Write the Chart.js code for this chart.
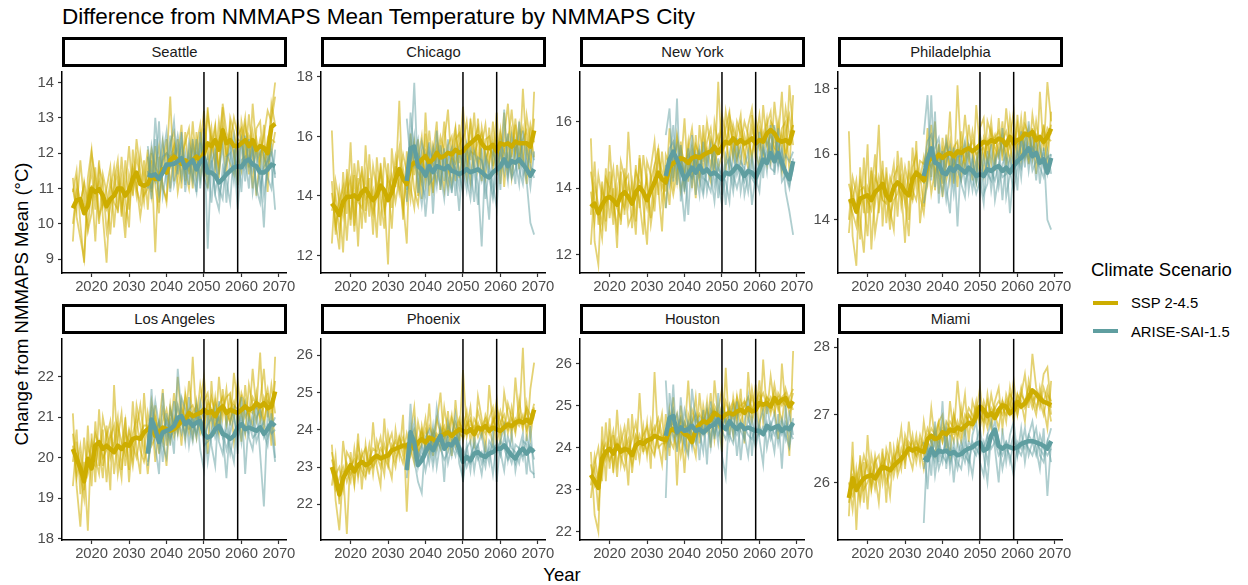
<!DOCTYPE html>
<html>
<head>
<meta charset="utf-8">
<script src="https://cdn.jsdelivr.net/npm/chart.js@4.4.1/dist/chart.umd.min.js"></script>
<style>
  body { margin: 0; width: 1248px; height: 585px; position: relative; overflow: hidden; background: #fff;
         font-family: "Liberation Sans", Arial, sans-serif; }
  canvas { position: absolute; }
  .txt { position: absolute; white-space: nowrap; line-height: 1; }
  .strip { position: absolute; box-sizing: border-box; border: 3px solid #000; background: #fff;
           font-size: 14.8px; color: #1a1a1a; display: flex; align-items: center; justify-content: center; }
  .key { position: absolute; width: 25px; height: 4.5px; }
</style>
</head>
<body>
<div class="txt" style="left:62px; top:6px; font-size:22.5px; color:#000;">Difference from NMMAPS Mean Temperature by NMMAPS City</div>
<div class="txt" style="left:22px; top:304px; font-size:18.5px; color:#000; transform: translate(-50%, -50%) rotate(-90deg);">Change from NMMAPS Mean (°C)</div>
<div class="txt" style="left:562px; top:566px; font-size:18.5px; color:#000; transform: translateX(-50%);">Year</div>
<div class="txt" style="left:1091px; top:261px; font-size:18.5px; color:#000;">Climate Scenario</div>
<div class="key" style="left:1093px; top:300.5px; background:#CDAD00;"></div>
<div class="txt" style="left:1131px; top:296px; font-size:14.8px; color:#000;">SSP 2-4.5</div>
<div class="key" style="left:1093px; top:328.5px; background:#5F9EA0;"></div>
<div class="txt" style="left:1131px; top:324.5px; font-size:14.8px; color:#000;">ARISE-SAI-1.5</div>

<script>
const years = [2015, 2016, 2017, 2018, 2019, 2020, 2021, 2022, 2023, 2024,
  2025, 2026, 2027, 2028, 2029, 2030, 2031, 2032, 2033, 2034,
  2035, 2036, 2037, 2038, 2039, 2040, 2041, 2042, 2043, 2044,
  2045, 2046, 2047, 2048, 2049, 2050, 2051, 2052, 2053, 2054,
  2055, 2056, 2057, 2058, 2059, 2060, 2061, 2062, 2063, 2064,
  2065, 2066, 2067, 2068, 2069];
const ariseYears = years.slice(20); // ARISE starts in 2035
const xTicks = [2020, 2030, 2040, 2050, 2060, 2070];
const markerYears = [2050, 2059];
const scenarios = ['SSP 2-4.5', 'ARISE-SAI-1.5'];

// ---- Seattle ----
const seattleSspMean = [10.44, 10.67, 10.70, 10.30, 10.50, 11.00, 10.90, 10.98, 10.80, 10.50,
  10.70, 10.80, 11.00, 11.00, 10.80, 10.95, 11.27, 11.45, 11.13, 11.08,
  11.13, 11.36, 11.27, 11.27, 11.54, 11.45, 11.80, 11.90, 11.80, 11.70,
  11.80, 11.70, 11.80, 11.90, 11.80, 12.00, 12.28, 12.20, 12.37, 12.10,
  12.65, 12.28, 12.37, 12.20, 12.20, 12.28, 12.37, 12.20, 12.37, 12.10,
  12.20, 12.15, 12.00, 12.74, 12.83];
const seattleAriseMean = [11.40, 11.36, 11.40, 11.27, 11.45, 11.68, 11.68, 11.70, 11.77, 11.86,
  11.59, 11.70, 11.80, 11.54, 11.75, 11.86, 11.45, 11.45, 11.36, 11.17,
  11.27, 11.40, 11.50, 11.60, 11.63, 11.60, 11.77, 11.82, 11.68, 11.63,
  11.45, 11.45, 11.54, 11.68, 11.63];
const seattleSspRuns = [
  [11.3, 10.2, 9.6, 9.0, 10.8, 11.5, 10.4, 11.8, 10.2, 8.9, 10.9, 11.6, 10.3, 11.9, 10.7, 9.9, 12.1, 11.0, 10.6, 11.8,
   10.4, 12.0, 11.1, 10.3, 12.3, 11.7, 13.6, 11.2, 12.4, 11.0, 12.6, 11.4, 12.9, 11.6, 12.1, 13.2, 11.8, 12.7, 11.5, 12.4,
   13.3, 11.9, 12.8, 12.0, 11.1, 12.9, 12.3, 11.4, 13.4, 12.1, 11.6, 12.8, 10.9, 13.1, 14.0],
  [9.5, 11.2, 10.6, 11.1, 9.8, 10.3, 11.6, 10.0, 11.4, 10.9, 9.7, 11.2, 11.8, 10.4, 11.0, 12.2, 10.8, 11.9, 11.3, 10.6,
   11.8, 10.9, 12.2, 10.6, 11.5, 12.4, 11.0, 12.3, 11.9, 12.8, 11.2, 12.1, 11.0, 12.6, 11.3, 12.0, 13.1, 12.4, 11.7, 12.9,
   12.2, 11.4, 13.0, 12.6, 11.9, 11.5, 12.8, 12.2, 11.0, 12.7, 12.9, 11.6, 12.4, 12.0, 12.6],
  [10.9, 11.5, 10.0, 8.9, 11.3, 12.1, 10.8, 11.2, 10.5, 11.0, 11.6, 9.9, 11.2, 10.7, 9.6, 11.4, 10.9, 12.4, 11.5, 10.8,
   11.0, 11.8, 9.2, 11.9, 11.1, 10.6, 12.3, 12.6, 11.3, 11.9, 12.3, 12.7, 11.4, 12.2, 12.8, 11.6, 13.3, 12.0, 12.7, 11.3,
   13.4, 12.6, 12.2, 13.0, 12.5, 12.7, 11.8, 13.1, 11.9, 12.4, 11.8, 12.5, 13.2, 12.9, 13.6],
  [11.0, 10.4, 11.8, 10.6, 9.9, 11.1, 9.5, 11.6, 11.2, 9.8, 10.5, 11.0, 11.5, 10.2, 11.8, 10.4, 11.5, 10.8, 12.0, 11.2,
   12.1, 10.8, 11.6, 12.2, 11.0, 10.7, 11.9, 12.0, 11.6, 12.2, 11.5, 11.0, 12.3, 11.8, 12.5, 11.3, 11.6, 12.2, 12.8, 11.4,
   12.8, 12.0, 11.7, 11.4, 12.9, 12.3, 13.0, 11.6, 12.6, 11.9, 12.4, 11.9, 11.5, 12.4, 12.3],
  [10.0, 10.9, 10.5, 11.2, 10.6, 12.0, 11.3, 10.2, 10.6, 10.4, 11.2, 10.6, 10.4, 11.3, 10.1, 10.8, 11.6, 11.1, 10.2, 11.0,
   11.4, 12.1, 11.6, 11.4, 11.8, 12.0, 11.9, 12.2, 10.9, 11.6, 11.7, 11.5, 12.2, 11.3, 11.9, 12.3, 11.0, 12.4, 12.1, 11.6,
   12.6, 11.8, 12.5, 11.9, 12.4, 12.3, 11.7, 12.5, 12.2, 10.8, 12.0, 12.2, 11.8, 13.4, 12.8]
];
const seattleAriseRuns = [
  [11.9, 11.0, 13.0, 11.6, 12.4, 11.2, 12.1, 12.9, 11.4, 12.6, 11.1, 12.3, 11.8, 12.0, 11.3, 12.7, 9.3, 11.8, 10.9, 11.5,
   12.2, 10.6, 11.9, 12.5, 11.0, 12.3, 11.2, 12.4, 10.9, 11.7, 12.1, 10.8, 11.6, 12.2, 11.3],
  [11.0, 12.2, 11.5, 10.8, 11.9, 12.6, 10.9, 11.8, 12.2, 11.3, 12.0, 11.1, 12.4, 10.9, 12.3, 11.4, 11.9, 10.6, 11.8, 11.0,
   10.7, 11.9, 12.0, 11.2, 12.2, 10.9, 12.5, 11.6, 12.1, 11.0, 10.6, 12.0, 11.3, 11.0, 12.1],
  [12.2, 11.4, 11.2, 12.9, 10.8, 11.5, 12.5, 11.1, 11.6, 12.4, 10.9, 11.8, 11.2, 12.4, 11.0, 12.1, 11.2, 12.0, 10.8, 10.4,
   11.6, 11.2, 10.6, 12.1, 10.4, 11.8, 11.9, 11.0, 12.4, 10.9, 11.5, 9.9, 12.1, 11.7, 10.4],
  [11.5, 10.7, 12.4, 11.3, 11.9, 12.0, 11.6, 11.9, 12.5, 11.8, 11.5, 12.0, 11.4, 10.9, 12.6, 11.3, 11.0, 11.7, 12.1, 10.8,
   11.3, 11.7, 12.2, 11.5, 11.8, 12.4, 11.6, 11.9, 11.5, 12.1, 11.0, 11.6, 11.8, 12.0, 11.4]
];

// ---- Chicago ----
const chicagoSspMean = [13.75, 13.58, 13.36, 13.80, 13.97, 13.97, 14.02, 13.90, 14.13, 14.24,
  14.02, 13.86, 14.02, 14.35, 14.19, 13.86, 14.13, 14.57, 14.90, 14.57,
  14.40, 15.00, 15.12, 15.07, 15.23, 15.34, 15.12, 15.23, 15.45, 15.29,
  15.34, 15.45, 15.40, 15.55, 15.45, 15.50, 15.66, 15.77, 15.88, 16.00,
  15.77, 15.61, 15.61, 15.72, 15.50, 15.77, 15.72, 15.77, 15.66, 15.83,
  15.77, 15.77, 15.77, 15.66, 16.20];
const chicagoAriseMean = [14.50, 15.60, 15.66, 15.00, 14.90, 14.68, 15.00, 14.80, 15.00, 14.95,
  14.90, 15.00, 14.84, 14.80, 14.73, 14.80, 14.90, 14.80, 14.84, 14.90,
  14.80, 14.68, 14.62, 14.80, 14.90, 15.00, 15.23, 15.00, 15.17, 15.12,
  15.23, 15.06, 14.90, 14.68, 14.90];
const chicagoSspRuns = [
  [16.2, 13.1, 12.2, 14.8, 13.4, 15.8, 13.0, 14.6, 12.9, 15.7, 13.8, 14.2, 12.6, 15.1, 14.0, 11.7, 15.6, 14.3, 17.2, 13.8,
   12.4, 16.1, 14.7, 15.9, 13.9, 16.8, 14.6, 15.4, 16.5, 14.2, 15.8, 16.9, 14.9, 16.2, 15.1, 17.0, 15.4, 16.4, 14.8, 16.6,
   15.2, 14.6, 16.3, 15.0, 16.8, 14.4, 16.0, 17.1, 15.3, 16.4, 14.9, 17.6, 15.5, 14.6, 17.5],
  [12.4, 14.5, 13.8, 12.1, 14.9, 13.2, 14.7, 12.3, 15.0, 13.5, 14.6, 12.7, 15.3, 13.9, 12.9, 15.1, 13.6, 14.8, 15.6, 13.2,
   15.5, 14.3, 13.6, 15.2, 16.0, 14.4, 15.3, 14.1, 15.9, 15.0, 14.2, 15.7, 16.0, 14.5, 16.4, 15.2, 14.6, 16.6, 15.6, 15.1,
   16.3, 15.4, 15.0, 16.5, 15.3, 16.2, 14.3, 15.8, 16.9, 15.4, 16.1, 15.0, 16.7, 15.8, 16.0],
  [14.1, 13.0, 13.8, 14.3, 12.5, 14.4, 13.5, 15.2, 14.0, 13.1, 15.4, 13.6, 14.5, 13.0, 15.3, 14.4, 12.9, 15.0, 14.1, 14.9,
   13.9, 15.1, 15.8, 14.0, 15.4, 14.7, 16.2, 15.0, 14.5, 15.7, 15.0, 14.3, 15.6, 16.3, 14.6, 15.8, 16.5, 15.2, 16.8, 14.9,
   15.7, 16.4, 15.1, 15.9, 14.7, 16.1, 15.6, 14.8, 16.2, 15.5, 16.4, 15.4, 14.4, 16.1, 15.3],
  [13.5, 14.0, 12.8, 13.9, 14.6, 13.0, 15.1, 13.8, 13.6, 14.7, 13.3, 15.0, 14.2, 14.8, 13.5, 14.1, 14.7, 13.8, 14.6, 15.4,
   14.8, 13.9, 15.6, 14.8, 14.5, 16.1, 14.0, 15.7, 15.2, 16.0, 15.5, 15.0, 14.4, 15.9, 16.1, 14.8, 15.6, 14.5, 15.9, 16.3,
   14.5, 15.9, 16.0, 14.9, 15.6, 15.3, 16.8, 15.0, 15.4, 16.6, 15.2, 15.9, 16.2, 15.1, 16.6],
  [14.5, 12.7, 14.2, 13.3, 14.1, 14.6, 12.8, 14.3, 14.8, 13.9, 14.1, 13.4, 14.0, 14.9, 13.6, 14.6, 14.2, 15.3, 14.4, 13.5,
   14.7, 15.4, 14.2, 13.7, 15.1, 15.5, 14.9, 14.2, 15.6, 15.1, 16.5, 14.8, 15.3, 15.1, 15.7, 16.0, 15.0, 15.5, 15.4, 15.8,
   16.1, 15.2, 15.6, 15.4, 16.0, 14.9, 15.5, 16.0, 14.6, 15.6, 15.8, 16.3, 15.4, 16.4, 15.8]
];
const chicagoAriseRuns = [
  [16.6, 15.2, 17.8, 14.6, 13.7, 14.9, 15.8, 13.4, 15.5, 14.2, 15.6, 14.0, 15.2, 14.9, 13.5, 15.4, 14.6, 13.9, 15.1, 14.4,
   12.3, 15.4, 14.8, 14.1, 15.6, 14.2, 16.9, 14.7, 15.3, 14.4, 16.5, 15.2, 14.5, 13.1, 12.7],
  [13.8, 16.8, 15.4, 15.9, 14.4, 14.0, 15.6, 15.1, 14.3, 15.7, 14.5, 15.9, 14.1, 15.5, 14.8, 14.1, 15.7, 15.0, 13.8, 15.3,
   15.2, 14.5, 13.2, 15.6, 14.9, 15.5, 14.8, 16.1, 14.7, 15.8, 14.9, 14.4, 15.6, 15.0, 14.6],
  [14.9, 15.1, 16.0, 14.1, 15.8, 15.3, 14.4, 14.6, 16.2, 14.8, 13.9, 15.2, 15.6, 14.0, 15.5, 15.0, 14.2, 15.6, 14.9, 13.7,
   15.6, 13.9, 15.0, 14.4, 13.6, 15.8, 15.4, 14.5, 16.0, 15.2, 14.4, 16.2, 14.8, 15.6, 15.2],
  [14.2, 15.9, 15.0, 15.4, 15.1, 13.3, 14.7, 15.6, 14.8, 14.4, 15.3, 14.6, 14.2, 15.0, 14.3, 15.6, 15.1, 14.3, 15.5, 15.0,
   14.5, 15.2, 14.6, 13.9, 14.8, 14.9, 15.1, 15.4, 14.6, 14.9, 15.6, 14.7, 15.2, 14.3, 15.5]
];

// ---- New York ----
const newYorkSspMean = [13.44, 13.54, 13.25, 13.50, 13.69, 13.74, 13.64, 13.50, 13.78, 13.88,
  13.74, 13.54, 13.88, 14.03, 13.88, 13.64, 13.93, 14.18, 14.47, 14.27,
  14.18, 14.62, 14.76, 14.81, 14.91, 14.86, 14.76, 14.91, 14.96, 14.91,
  15.00, 15.06, 15.10, 15.25, 15.06, 15.25, 15.40, 15.35, 15.50, 15.35,
  15.45, 15.35, 15.40, 15.50, 15.35, 15.45, 15.40, 15.65, 15.75, 15.65,
  15.45, 15.40, 15.45, 15.35, 15.75];
const newYorkAriseMean = [14.37, 14.86, 15.10, 14.86, 14.57, 14.27, 14.42, 14.62, 14.47, 14.67,
  14.47, 14.57, 14.42, 14.47, 14.37, 14.27, 14.47, 14.42, 14.52, 14.67,
  14.57, 14.37, 14.52, 14.47, 14.32, 14.57, 14.86, 14.76, 15.06, 14.81,
  15.06, 14.76, 14.47, 14.27, 14.81];
const newYorkSspRuns = [
  [15.5, 12.4, 11.7, 14.2, 13.0, 15.3, 13.6, 12.8, 14.5, 13.2, 15.7, 13.9, 12.6, 14.9, 13.5, 12.3, 14.6, 15.4, 13.8, 15.1,
   13.9, 15.8, 14.3, 15.5, 14.6, 16.1, 14.2, 15.0, 13.7, 15.9, 14.8, 16.0, 15.2, 14.4, 17.2, 14.9, 15.8, 16.3, 15.0, 15.6,
   16.2, 14.7, 15.9, 16.4, 15.1, 14.6, 16.5, 15.3, 14.8, 16.6, 15.5, 16.9, 14.6, 17.1, 15.7],
  [12.3, 14.1, 13.5, 12.9, 14.6, 13.1, 14.0, 12.2, 14.8, 14.3, 12.9, 13.2, 14.7, 13.4, 15.0, 14.1, 12.9, 13.8, 15.2, 13.6,
   14.4, 13.5, 15.3, 14.7, 13.9, 14.5, 15.4, 14.0, 15.6, 14.3, 15.5, 14.6, 14.2, 16.0, 15.3, 15.8, 14.5, 16.2, 15.7, 14.9,
   15.3, 16.0, 15.6, 14.8, 16.1, 15.4, 15.0, 15.9, 16.3, 14.9, 16.0, 15.2, 16.4, 15.6, 15.9],
  [13.9, 13.0, 14.4, 13.7, 12.7, 14.5, 13.3, 14.0, 12.9, 14.6, 13.5, 14.2, 13.0, 15.0, 13.8, 14.3, 13.1, 14.6, 14.0, 12.7,
   15.0, 14.7, 14.1, 15.6, 14.9, 14.4, 15.2, 15.8, 14.6, 15.1, 14.6, 15.4, 15.8, 14.7, 15.2, 16.2, 15.6, 14.7, 15.9, 15.4,
   14.8, 15.6, 15.1, 16.2, 14.9, 15.8, 15.4, 16.1, 15.0, 15.5, 14.9, 15.8, 16.0, 14.5, 16.8],
  [13.2, 14.8, 12.9, 14.0, 13.5, 13.9, 14.6, 13.4, 13.1, 14.2, 14.4, 12.8, 14.1, 13.6, 12.6, 14.8, 14.4, 13.3, 14.9, 14.5,
   13.4, 14.9, 15.1, 14.2, 15.4, 14.0, 14.6, 15.3, 14.8, 14.2, 15.9, 14.8, 15.5, 15.1, 14.6, 15.0, 16.3, 15.5, 14.9, 16.0,
   15.6, 15.1, 14.6, 15.8, 15.4, 16.2, 15.1, 14.7, 16.0, 15.8, 15.2, 14.5, 15.7, 16.2, 15.3],
  [14.5, 13.6, 13.2, 12.5, 14.3, 14.0, 12.9, 14.7, 13.7, 13.4, 14.1, 13.6, 14.5, 14.2, 13.9, 13.4, 14.2, 14.7, 15.2, 14.0,
   14.3, 14.4, 13.8, 14.5, 15.2, 14.8, 15.0, 14.4, 15.3, 15.0, 14.9, 15.2, 14.7, 15.3, 15.6, 15.1, 15.3, 15.9, 15.4, 14.8,
   15.9, 15.3, 15.5, 15.0, 15.6, 15.2, 15.7, 15.3, 15.6, 15.2, 15.1, 15.6, 15.0, 15.5, 15.9]
];
const newYorkAriseRuns = [
  [15.6, 16.4, 14.2, 16.7, 13.6, 14.9, 13.2, 15.1, 14.5, 13.8, 15.4, 13.9, 14.6, 15.2, 13.7, 14.8, 13.5, 15.0, 14.2, 15.5,
   13.9, 14.6, 15.1, 13.5, 14.4, 15.7, 14.3, 15.6, 14.8, 15.9, 14.6, 15.2, 13.9, 13.3, 12.6],
  [13.4, 14.8, 15.9, 14.1, 15.3, 14.0, 14.6, 15.6, 13.8, 14.9, 14.0, 15.0, 14.4, 13.6, 14.9, 13.8, 15.0, 14.6, 13.9, 14.9,
   15.2, 13.8, 14.4, 15.0, 14.3, 13.9, 15.3, 14.5, 15.9, 14.4, 15.5, 14.6, 15.0, 14.8, 15.1],
  [14.1, 15.2, 15.4, 14.6, 14.9, 13.9, 15.2, 14.1, 15.0, 14.3, 13.8, 14.6, 15.3, 14.1, 14.6, 14.4, 14.2, 13.6, 15.2, 14.4,
   14.8, 14.6, 13.9, 14.8, 14.0, 14.9, 14.7, 15.1, 14.6, 14.5, 15.8, 14.2, 14.4, 14.0, 14.9],
  [14.7, 14.1, 14.9, 15.3, 14.2, 13.0, 14.5, 14.3, 14.7, 15.2, 14.3, 14.2, 13.9, 14.8, 14.2, 13.5, 14.7, 14.9, 14.4, 14.0,
   14.5, 14.2, 14.6, 14.3, 14.1, 14.5, 15.2, 14.8, 15.3, 15.0, 14.7, 15.1, 14.5, 14.1, 14.6]
];

// ---- Philadelphia ----
const phillySspMean = [14.55, 14.60, 14.25, 14.65, 14.70, 14.75, 14.60, 14.85, 14.95, 15.10,
  14.75, 14.60, 15.00, 15.14, 15.04, 14.85, 14.75, 15.24, 15.44, 15.34,
  15.20, 15.74, 15.89, 15.84, 15.99, 15.89, 15.99, 16.04, 15.94, 16.09,
  16.04, 16.13, 16.18, 16.09, 16.18, 16.28, 16.38, 16.33, 16.43, 16.38,
  16.48, 16.43, 16.28, 16.53, 16.33, 16.43, 16.48, 16.63, 16.58, 16.68,
  16.43, 16.53, 16.38, 16.53, 16.78];
const phillyAriseMean = [15.34, 15.84, 16.18, 15.74, 15.69, 15.44, 15.39, 15.59, 15.49, 15.64,
  15.54, 15.44, 15.59, 15.49, 15.34, 15.39, 15.34, 15.54, 15.49, 15.59,
  15.64, 15.49, 15.59, 15.44, 15.64, 15.79, 15.89, 16.04, 16.18, 15.94,
  16.04, 15.74, 15.84, 15.44, 15.89];
const phillySspRuns = [
  [16.7, 13.5, 12.6, 15.6, 14.2, 16.3, 13.1, 14.9, 16.9, 13.8, 15.6, 14.3, 13.7, 16.1, 14.9, 13.3, 15.8, 14.6, 16.4, 13.9,
   15.0, 16.8, 15.3, 17.0, 14.8, 16.5, 15.6, 17.3, 15.1, 18.1, 15.9, 17.2, 16.0, 15.2, 17.5, 16.2, 15.4, 17.0, 16.6, 15.5,
   17.1, 15.8, 17.4, 16.3, 15.6, 17.2, 16.0, 17.3, 15.7, 16.8, 15.4, 17.9, 16.1, 18.2, 17.0],
  [14.0, 15.3, 14.8, 13.4, 15.9, 14.2, 15.5, 13.6, 14.4, 15.8, 13.9, 15.0, 15.7, 14.1, 15.9, 14.6, 13.5, 15.6, 16.0, 14.7,
   14.2, 15.4, 16.9, 14.9, 16.3, 15.1, 16.6, 15.2, 16.1, 15.0, 16.7, 15.5, 16.9, 15.9, 15.2, 16.8, 17.1, 15.5, 16.7, 16.2,
   15.9, 17.0, 15.6, 16.5, 17.3, 15.7, 16.7, 16.1, 15.8, 17.2, 16.4, 15.8, 16.9, 15.6, 17.3],
  [15.1, 14.6, 15.2, 14.0, 13.0, 15.0, 14.7, 16.0, 14.2, 15.4, 14.9, 13.7, 15.3, 15.6, 14.4, 15.2, 14.0, 16.2, 15.0, 15.8,
   15.7, 16.1, 14.8, 15.5, 16.2, 14.7, 15.8, 16.4, 15.3, 16.2, 15.3, 16.3, 15.8, 16.7, 16.0, 15.4, 16.5, 16.1, 17.0, 15.8,
   16.3, 16.6, 15.9, 17.1, 16.2, 16.9, 15.8, 16.4, 16.8, 15.9, 17.0, 16.2, 15.7, 16.5, 16.4],
  [13.6, 14.9, 14.3, 15.2, 14.5, 13.5, 15.6, 14.5, 15.3, 14.7, 15.3, 14.1, 14.6, 14.8, 15.3, 14.5, 15.4, 14.9, 14.6, 15.4,
   14.4, 15.8, 15.6, 16.0, 15.4, 16.1, 15.2, 15.7, 16.2, 16.4, 15.6, 15.9, 16.3, 16.1, 15.6, 16.6, 15.9, 16.4, 15.7, 16.5,
   16.7, 16.0, 16.4, 15.8, 16.6, 16.1, 17.1, 15.9, 16.5, 16.7, 16.0, 16.5, 16.3, 16.8, 16.6],
  [14.6, 14.2, 13.8, 14.9, 15.0, 14.6, 14.3, 15.3, 15.0, 14.6, 14.5, 15.3, 14.9, 15.1, 14.7, 15.6, 15.0, 14.6, 15.5, 15.2,
   15.9, 15.1, 16.2, 15.4, 15.9, 16.0, 16.3, 15.6, 15.7, 16.0, 16.2, 15.7, 16.1, 16.4, 16.0, 16.1, 16.2, 15.8, 16.3, 16.6,
   16.0, 16.4, 16.7, 16.2, 16.5, 16.3, 16.4, 16.9, 16.6, 16.1, 16.6, 16.4, 16.8, 16.2, 16.9]
];
const phillyAriseRuns = [
  [16.6, 17.8, 15.2, 17.3, 14.5, 16.1, 15.0, 14.2, 16.2, 13.8, 15.9, 16.4, 14.9, 15.8, 15.2, 16.6, 14.8, 15.1, 16.3, 14.6,
   15.3, 16.8, 14.7, 15.4, 16.2, 14.9, 16.7, 15.6, 17.0, 15.8, 16.4, 15.1, 16.2, 14.0, 13.7],
  [14.5, 15.2, 17.8, 15.0, 16.1, 15.3, 16.4, 15.8, 14.8, 16.0, 15.1, 14.7, 16.2, 15.3, 14.8, 15.2, 14.5, 16.1, 14.9, 15.7,
   16.1, 14.6, 15.9, 14.2, 15.5, 16.2, 15.3, 16.6, 15.5, 16.4, 15.2, 16.3, 15.6, 15.9, 16.0],
  [15.6, 16.4, 16.6, 15.9, 15.4, 14.8, 15.7, 16.2, 15.3, 15.9, 16.0, 15.1, 15.6, 14.9, 15.8, 14.8, 15.9, 15.4, 15.2, 15.9,
   15.0, 15.7, 16.0, 15.5, 14.9, 15.6, 16.4, 15.9, 16.3, 15.5, 15.8, 15.6, 15.3, 16.1, 15.4],
  [15.1, 15.6, 15.9, 16.2, 16.5, 15.6, 14.6, 15.4, 15.9, 15.5, 15.2, 15.7, 15.4, 15.9, 15.1, 15.6, 15.3, 15.8, 15.5, 15.2,
   15.7, 15.3, 15.4, 15.9, 15.3, 16.0, 15.6, 16.3, 15.9, 16.2, 16.0, 15.7, 16.1, 15.4, 16.0]
];

// ---- Los Angeles ----
const laSspMean = [20.22, 19.98, 19.74, 19.42, 19.98, 19.74, 20.30, 20.39, 20.22, 20.30,
  20.22, 20.14, 20.30, 20.22, 20.34, 20.30, 20.47, 20.50, 20.47, 20.63,
  20.71, 20.79, 20.55, 20.63, 20.75, 20.71, 20.67, 20.71, 20.79, 20.91,
  20.95, 21.11, 21.03, 21.07, 21.11, 21.19, 21.11, 21.15, 21.03, 21.19,
  21.27, 21.11, 21.19, 21.15, 21.11, 21.19, 21.27, 21.19, 21.23, 21.35,
  21.27, 21.35, 21.23, 21.27, 21.64];
const laAriseMean = [20.10, 20.95, 20.71, 20.39, 20.63, 20.67, 20.71, 20.79, 20.99, 21.03,
  20.83, 20.91, 20.79, 20.87, 20.91, 20.59, 20.50, 20.55, 20.71, 20.79,
  20.59, 20.55, 20.47, 20.55, 20.75, 20.83, 20.71, 20.75, 20.71, 20.67,
  20.75, 20.59, 20.71, 20.87, 20.79];
const laSspRuns = [
  [21.1, 19.3, 18.3, 19.9, 18.2, 20.6, 19.4, 21.2, 19.8, 20.5, 19.2, 21.8, 20.1, 19.5, 21.0, 19.7, 21.4, 20.2, 19.6, 21.6,
   20.4, 21.1, 19.9, 20.8, 21.7, 20.3, 21.3, 20.6, 22.0, 20.9, 21.5, 20.7, 22.5, 20.9, 21.8, 21.2, 20.1, 21.9, 20.6, 22.0,
   21.0, 21.7, 20.8, 22.1, 21.3, 20.4, 21.8, 20.9, 22.2, 21.2, 22.6, 20.7, 21.6, 20.3, 22.5],
  [19.3, 20.4, 19.6, 19.0, 20.8, 19.3, 20.9, 19.8, 21.0, 20.5, 20.9, 19.6, 20.5, 21.1, 19.8, 20.6, 20.0, 21.3, 20.8, 20.1,
   21.1, 20.5, 21.3, 20.1, 20.9, 21.2, 20.6, 21.6, 20.7, 21.4, 20.8, 21.9, 21.0, 20.5, 21.3, 22.0, 20.9, 21.5, 21.1, 20.6,
   21.7, 20.9, 21.5, 21.0, 21.9, 21.1, 20.6, 21.8, 21.3, 20.9, 21.4, 22.2, 21.0, 21.8, 21.1],
  [20.6, 19.7, 20.3, 19.5, 19.8, 20.4, 20.0, 19.6, 20.7, 19.4, 20.5, 20.8, 19.6, 20.3, 20.9, 19.4, 20.6, 21.0, 20.2, 19.9,
   20.3, 21.4, 20.9, 20.4, 20.6, 19.8, 21.2, 20.8, 21.3, 20.3, 21.6, 21.0, 20.5, 21.4, 20.8, 21.4, 21.6, 20.8, 21.5, 20.7,
   21.2, 21.5, 21.6, 20.4, 21.0, 21.6, 21.3, 21.1, 20.8, 21.6, 20.9, 21.3, 21.7, 21.0, 21.9],
  [19.9, 20.7, 19.1, 20.5, 19.6, 20.0, 20.6, 20.3, 19.5, 20.8, 20.0, 20.4, 21.0, 19.7, 20.6, 20.4, 19.8, 20.7, 21.3, 20.5,
   19.6, 20.7, 21.0, 20.6, 21.2, 20.7, 20.4, 21.0, 20.6, 21.1, 20.5, 21.2, 21.3, 21.0, 20.6, 20.9, 21.4, 21.2, 20.7, 21.3,
   21.5, 20.8, 21.2, 21.4, 20.9, 21.1, 21.4, 21.0, 21.5, 21.3, 21.0, 21.5, 21.2, 21.4, 20.3],
  [20.3, 19.5, 20.0, 19.2, 20.3, 19.9, 19.8, 20.4, 20.0, 20.2, 20.6, 20.2, 20.8, 20.4, 20.1, 20.7, 20.3, 20.0, 20.6, 20.8,
   20.8, 20.3, 20.5, 20.9, 20.4, 21.0, 20.8, 20.5, 20.9, 21.2, 21.0, 20.6, 21.1, 21.3, 21.0, 20.8, 21.3, 21.0, 21.4, 20.9,
   21.3, 21.1, 20.9, 21.3, 21.2, 21.5, 21.0, 21.2, 21.1, 21.4, 21.2, 20.9, 21.4, 21.3, 21.6]
];
const laAriseRuns = [
  [20.2, 21.7, 20.3, 19.6, 21.6, 20.5, 20.9, 20.1, 22.2, 21.1, 20.4, 21.5, 20.6, 21.3, 20.2, 19.7, 21.2, 20.3, 19.8, 21.4,
   20.6, 19.5, 20.9, 21.2, 20.1, 21.5, 19.6, 21.0, 20.7, 21.3, 20.1, 18.8, 21.1, 20.7, 19.9],
  [19.8, 20.6, 21.4, 20.8, 19.9, 21.1, 20.3, 21.4, 20.6, 21.5, 21.2, 20.3, 21.0, 20.5, 21.4, 20.9, 19.9, 20.6, 21.2, 20.4,
   20.1, 21.0, 20.3, 19.9, 21.2, 20.4, 21.3, 20.5, 20.2, 21.0, 21.2, 20.6, 20.3, 21.1, 20.0],
  [20.5, 21.2, 20.6, 20.9, 20.3, 20.0, 21.2, 20.8, 21.0, 20.6, 21.0, 20.8, 20.4, 21.1, 20.8, 20.5, 20.8, 21.0, 20.5, 20.8,
   20.7, 20.2, 20.6, 21.0, 20.5, 20.9, 20.8, 20.6, 21.1, 20.4, 20.7, 20.9, 20.5, 20.8, 21.0],
  [19.9, 20.4, 20.8, 20.2, 20.7, 20.9, 20.5, 20.7, 21.3, 20.9, 20.6, 21.1, 20.9, 20.6, 21.0, 20.3, 20.4, 20.5, 20.8, 21.0,
   20.5, 20.7, 20.1, 20.6, 20.8, 21.0, 20.6, 20.9, 20.5, 20.6, 20.9, 20.5, 20.8, 20.6, 20.7]
];

// ---- Phoenix ----
const phoenixSspMean = [23.00, 22.70, 22.26, 22.70, 22.88, 23.05, 22.88, 23.05, 23.14, 23.05,
  23.10, 23.23, 23.31, 23.23, 23.27, 23.31, 23.45, 23.49, 23.53, 23.58,
  23.58, 23.66, 23.49, 23.66, 23.75, 23.66, 23.79, 23.75, 23.66, 23.84,
  23.88, 23.93, 23.84, 23.93, 24.01, 23.97, 23.93, 24.01, 23.88, 24.06,
  24.01, 24.10, 23.97, 24.06, 24.01, 23.97, 24.06, 24.14, 24.10, 24.19,
  24.23, 24.19, 24.27, 24.19, 24.54];
const phoenixAriseMean = [22.92, 23.93, 23.66, 23.05, 23.18, 23.40, 23.58, 23.45, 23.66, 23.84,
  23.49, 23.62, 23.58, 23.75, 23.49, 23.14, 23.27, 23.18, 23.36, 23.40,
  23.31, 23.27, 23.36, 23.40, 23.49, 23.49, 23.58, 23.45, 23.31, 23.23,
  23.40, 23.49, 23.36, 23.49, 23.40];
const phoenixSspRuns = [
  [23.6, 22.1, 21.3, 22.9, 21.2, 23.4, 22.6, 23.9, 22.4, 23.6, 22.8, 24.2, 23.0, 22.5, 24.3, 23.1, 22.7, 24.0, 23.3, 24.4,
   21.8, 23.9, 24.6, 23.2, 24.1, 23.5, 24.7, 23.3, 24.2, 25.0, 23.6, 24.5, 23.3, 24.8, 23.7, 25.6, 24.0, 24.6, 23.5, 24.9,
   24.3, 23.4, 25.2, 24.1, 24.8, 23.6, 25.0, 24.4, 23.8, 25.4, 24.2, 26.2, 23.7, 25.1, 25.8],
  [22.5, 23.3, 22.0, 23.7, 22.9, 22.6, 23.5, 22.7, 23.4, 23.0, 23.6, 22.8, 23.7, 23.3, 22.8, 23.9, 23.4, 23.0, 23.8, 23.3,
   23.9, 23.5, 23.1, 24.2, 23.7, 24.3, 23.4, 24.0, 23.8, 23.5, 24.6, 23.9, 24.4, 23.6, 24.2, 24.0, 24.5, 23.7, 24.3, 24.1,
   23.8, 24.4, 24.1, 23.6, 24.6, 24.2, 23.9, 24.7, 24.3, 23.9, 24.8, 24.1, 24.6, 24.4, 24.3],
  [23.2, 22.8, 23.0, 22.4, 23.4, 23.2, 22.5, 23.6, 23.1, 22.8, 23.2, 23.5, 23.4, 23.8, 23.1, 23.6, 23.9, 23.2, 23.5, 23.8,
   23.4, 23.7, 24.0, 23.5, 23.9, 23.6, 24.1, 23.8, 24.3, 23.9, 24.1, 23.5, 24.3, 24.0, 23.7, 24.4, 23.8, 24.2, 23.9, 24.5,
   24.1, 23.9, 24.3, 24.6, 23.6, 24.2, 24.4, 23.9, 24.6, 24.0, 24.4, 24.0, 24.7, 23.8, 24.6],
  [22.9, 22.4, 22.7, 23.0, 22.6, 23.0, 23.2, 22.8, 23.3, 23.5, 22.9, 23.1, 23.3, 23.0, 23.6, 23.2, 23.5, 23.7, 23.4, 23.1,
   23.6, 23.3, 23.8, 23.4, 23.6, 24.0, 23.6, 23.9, 23.5, 24.1, 23.8, 24.1, 23.7, 24.0, 24.3, 23.7, 24.1, 24.3, 23.9, 24.2,
   23.9, 24.2, 23.9, 24.3, 24.0, 24.5, 24.1, 24.2, 24.0, 24.3, 24.1, 24.4, 24.0, 24.3, 24.7],
  [23.4, 22.9, 22.2, 22.6, 23.1, 22.8, 23.0, 23.3, 22.9, 22.7, 23.3, 23.0, 23.2, 23.5, 23.3, 23.0, 23.6, 23.4, 23.8, 23.5,
   23.5, 23.8, 23.3, 23.7, 24.0, 23.4, 23.8, 23.6, 23.9, 23.7, 24.0, 23.8, 23.9, 24.2, 23.9, 23.8, 24.2, 24.0, 24.1, 23.8,
   24.1, 24.3, 24.0, 24.2, 24.4, 23.9, 24.2, 24.0, 24.3, 24.1, 24.3, 24.2, 24.5, 24.1, 24.4]
];
const phoenixAriseRuns = [
  [22.9, 24.7, 23.2, 22.6, 22.3, 23.8, 24.0, 23.3, 24.6, 23.9, 22.6, 24.2, 23.8, 24.4, 23.1, 22.7, 23.6, 22.9, 23.8, 23.3,
   22.8, 23.6, 23.1, 24.0, 22.6, 23.7, 24.1, 23.2, 23.9, 22.9, 23.5, 23.9, 22.8, 24.1, 22.7],
  [23.1, 23.6, 24.2, 23.0, 23.5, 22.9, 23.4, 24.1, 23.0, 23.7, 23.9, 23.1, 23.6, 23.3, 23.9, 22.6, 23.5, 23.7, 22.9, 23.6,
   23.9, 23.2, 23.5, 22.8, 23.7, 23.4, 22.9, 23.8, 23.5, 23.4, 23.1, 23.7, 23.6, 22.9, 22.8],
  [22.7, 24.1, 23.5, 23.4, 23.2, 23.6, 23.1, 23.8, 23.4, 24.0, 23.5, 23.8, 23.3, 23.9, 23.6, 23.4, 23.0, 23.3, 23.6, 23.2,
   23.4, 23.0, 23.7, 23.5, 23.6, 23.3, 23.8, 23.4, 23.1, 23.6, 23.5, 23.2, 23.8, 23.4, 23.5],
  [23.0, 23.4, 23.7, 23.2, 23.6, 23.3, 23.7, 23.0, 23.7, 23.5, 23.2, 23.4, 23.7, 23.5, 23.3, 23.5, 23.2, 23.1, 23.4, 23.6,
   23.1, 23.4, 23.3, 23.6, 23.4, 23.7, 23.5, 23.2, 23.4, 23.1, 23.5, 23.3, 23.4, 23.6, 23.2]
];

// ---- Houston ----
const houstonSspMean = [23.35, 23.20, 23.04, 23.74, 23.90, 23.97, 23.86, 24.05, 23.90, 23.97,
  23.94, 23.82, 24.05, 24.13, 24.09, 24.17, 24.20, 24.28, 24.24, 24.20,
  24.17, 24.40, 24.44, 24.36, 24.44, 24.32, 24.28, 24.13, 24.44, 24.55,
  24.63, 24.59, 24.67, 24.83, 24.75, 24.71, 24.79, 24.83, 24.79, 24.86,
  24.90, 24.83, 24.94, 24.86, 24.90, 25.06, 25.02, 25.06, 24.98, 25.18,
  25.06, 25.14, 25.18, 24.98, 25.10];
const houstonAriseMean = [24.28, 24.71, 24.75, 24.36, 24.48, 24.40, 24.44, 24.52, 24.40, 24.44,
  24.36, 24.44, 24.52, 24.55, 24.67, 24.52, 24.44, 24.63, 24.52, 24.44,
  24.55, 24.44, 24.48, 24.44, 24.40, 24.40, 24.32, 24.52, 24.44, 24.48,
  24.52, 24.40, 24.48, 24.44, 24.59];
const houstonSspRuns = [
  [23.9, 22.4, 22.0, 24.5, 23.2, 24.7, 23.4, 24.9, 23.6, 24.2, 23.1, 24.8, 23.7, 25.3, 23.9, 24.6, 23.5, 25.8, 24.1, 23.6,
   24.8, 23.8, 25.2, 23.1, 25.0, 24.3, 25.6, 24.2, 23.8, 25.3, 24.4, 25.1, 24.0, 25.6, 24.7, 23.9, 25.9, 24.3, 25.2, 24.6,
   25.4, 24.1, 25.8, 24.7, 25.5, 24.3, 26.1, 24.8, 25.7, 25.0, 24.2, 26.0, 24.9, 23.8, 26.3],
  [22.8, 23.6, 24.0, 23.2, 24.6, 23.5, 24.3, 23.3, 24.4, 23.8, 24.7, 23.4, 24.2, 23.7, 24.5, 23.8, 24.6, 23.9, 24.3, 24.8,
   23.7, 24.9, 24.3, 24.0, 24.6, 23.4, 24.8, 24.5, 25.2, 24.1, 25.0, 24.5, 25.3, 24.2, 24.9, 25.4, 24.6, 25.0, 24.3, 25.2,
   24.5, 25.1, 24.7, 25.4, 24.8, 25.6, 24.6, 25.2, 24.9, 25.5, 25.0, 24.6, 25.4, 25.1, 24.9],
  [23.6, 23.1, 23.4, 24.1, 23.7, 24.0, 24.4, 23.6, 24.1, 24.5, 23.9, 24.2, 24.6, 24.0, 24.3, 24.5, 24.1, 24.4, 24.7, 24.3,
   24.0, 24.6, 24.4, 24.8, 24.2, 24.6, 24.3, 24.9, 24.6, 24.8, 24.6, 24.9, 24.6, 25.0, 24.8, 24.5, 25.1, 24.8, 24.7, 25.2,
   24.8, 25.0, 25.2, 24.9, 25.1, 25.3, 25.0, 25.2, 25.1, 24.8, 25.3, 25.1, 25.0, 25.2, 25.4],
  [23.3, 23.5, 22.5, 23.9, 24.1, 23.7, 23.9, 24.2, 23.8, 23.5, 24.0, 23.6, 24.0, 24.3, 23.9, 24.2, 24.0, 23.8, 24.5, 24.2,
   24.4, 24.2, 24.0, 24.5, 23.8, 24.3, 24.6, 24.1, 24.5, 24.3, 24.8, 24.4, 24.9, 24.7, 24.5, 24.9, 24.6, 24.8, 25.0, 24.7,
   25.1, 24.8, 24.9, 24.6, 25.0, 25.2, 24.9, 25.1, 24.8, 25.3, 24.9, 25.2, 25.3, 24.8, 25.1],
  [23.1, 23.8, 23.2, 23.6, 23.8, 24.3, 23.5, 24.1, 24.0, 23.9, 24.2, 23.8, 24.3, 24.1, 24.2, 23.9, 24.3, 24.5, 24.0, 24.1,
   24.1, 24.5, 24.6, 24.3, 24.7, 24.4, 23.9, 24.6, 24.8, 24.5, 24.7, 24.6, 24.8, 24.9, 24.7, 25.0, 24.8, 24.9, 25.1, 24.8,
   25.0, 25.1, 24.9, 25.2, 24.9, 25.1, 25.3, 25.0, 25.2, 25.0, 25.2, 25.0, 25.2, 25.0, 25.3]
];
const houstonAriseRuns = [
  [25.6, 24.0, 25.5, 23.9, 25.2, 24.1, 23.8, 25.4, 24.6, 23.7, 24.9, 23.6, 25.1, 24.2, 25.3, 23.8, 23.3, 24.9, 24.3, 25.1,
   23.7, 24.6, 25.2, 23.8, 24.9, 24.2, 23.6, 25.1, 24.4, 23.9, 24.8, 23.5, 25.0, 24.1, 24.7],
  [22.8, 25.3, 24.6, 24.8, 24.2, 24.9, 24.5, 24.0, 24.8, 24.4, 23.9, 24.9, 24.2, 24.7, 24.1, 25.0, 24.5, 24.2, 24.9, 23.8,
   24.6, 24.3, 23.8, 24.7, 24.1, 24.6, 24.9, 24.0, 24.5, 24.8, 24.1, 24.6, 24.2, 24.8, 24.3],
  [24.3, 24.8, 24.2, 24.5, 24.7, 24.0, 24.6, 24.3, 24.1, 24.7, 24.4, 24.6, 24.0, 24.8, 24.3, 24.5, 24.7, 24.3, 24.1, 24.6,
   24.4, 24.2, 24.7, 24.4, 24.0, 24.5, 24.3, 24.6, 24.2, 24.5, 24.4, 24.7, 24.3, 24.0, 24.6],
  [24.2, 24.6, 24.9, 24.3, 24.4, 24.6, 24.3, 24.7, 24.2, 24.5, 24.3, 24.4, 24.7, 24.3, 24.6, 24.4, 24.2, 24.6, 24.5, 24.3,
   24.6, 24.5, 24.3, 24.2, 24.5, 24.3, 24.5, 24.4, 24.6, 24.3, 24.5, 24.3, 24.6, 24.4, 24.2]
];

// ---- Miami ----
const miamiSspMean = [25.77, 26.06, 25.89, 25.99, 26.06, 26.09, 26.11, 26.06, 26.16, 26.23,
  26.21, 26.18, 26.25, 26.30, 26.35, 26.42, 26.50, 26.47, 26.50, 26.47,
  26.45, 26.64, 26.69, 26.64, 26.66, 26.74, 26.71, 26.78, 26.76, 26.81,
  26.78, 26.83, 26.88, 26.86, 26.98, 27.12, 27.07, 26.98, 27.02, 26.95,
  27.07, 27.14, 27.12, 27.02, 27.07, 27.19, 27.12, 27.17, 27.26, 27.36,
  27.31, 27.24, 27.19, 27.17, 27.14];
const miamiAriseMean = [26.37, 26.33, 26.50, 26.40, 26.47, 26.45, 26.47, 26.42, 26.45, 26.40,
  26.42, 26.47, 26.50, 26.52, 26.57, 26.59, 26.47, 26.50, 26.69, 26.78,
  26.54, 26.50, 26.54, 26.52, 26.50, 26.52, 26.57, 26.59, 26.61, 26.61,
  26.59, 26.57, 26.54, 26.50, 26.61];
const miamiSspRuns = [
  [25.5, 26.6, 25.3, 26.4, 25.7, 26.7, 25.9, 26.3, 26.0, 26.5, 25.7, 26.6, 26.1, 26.4, 26.8, 26.2, 26.9, 26.4, 26.7, 26.3,
   26.9, 26.5, 27.1, 26.6, 26.9, 27.0, 26.5, 27.2, 26.7, 27.5, 26.9, 27.3, 26.6, 27.2, 27.0, 27.4, 26.8, 27.3, 26.9, 27.2,
   27.4, 26.8, 27.3, 27.1, 27.5, 27.0, 27.3, 27.6, 27.1, 27.9, 27.4, 27.2, 27.6, 27.7, 27.1],
  [26.0, 25.6, 26.2, 25.8, 26.3, 25.6, 26.4, 26.1, 25.7, 26.4, 26.2, 25.8, 26.5, 26.1, 26.3, 26.6, 26.4, 26.2, 26.6, 26.5,
   26.2, 26.6, 26.5, 26.8, 26.5, 26.9, 26.7, 26.4, 27.0, 26.6, 27.1, 26.7, 27.0, 26.9, 27.2, 26.8, 27.1, 26.9, 27.3, 27.0,
   26.8, 27.2, 26.9, 27.4, 27.0, 27.3, 27.2, 26.9, 27.5, 27.2, 27.0, 27.4, 27.1, 26.8, 27.5],
  [25.8, 26.3, 25.9, 26.1, 26.4, 26.2, 25.9, 26.3, 26.4, 26.0, 26.5, 26.3, 26.2, 26.6, 26.3, 26.5, 26.4, 26.7, 26.3, 26.6,
   26.4, 26.7, 26.6, 26.4, 26.8, 26.6, 26.9, 26.8, 26.6, 26.9, 26.7, 27.0, 26.9, 26.8, 27.1, 27.0, 26.9, 27.2, 27.0, 27.1,
   27.2, 27.1, 27.0, 27.2, 26.9, 27.3, 27.1, 27.2, 27.3, 27.1, 27.3, 27.2, 27.0, 27.3, 27.2],
  [25.7, 26.1, 26.0, 26.3, 25.9, 26.0, 26.2, 25.9, 26.2, 26.3, 26.0, 26.2, 26.4, 26.2, 26.5, 26.3, 26.6, 26.5, 26.4, 26.7,
   26.5, 26.6, 26.8, 26.7, 26.6, 26.8, 26.7, 26.9, 26.8, 26.7, 26.9, 26.8, 27.0, 26.9, 27.1, 26.9, 27.2, 27.0, 26.8, 27.1,
   27.0, 27.2, 27.1, 27.3, 27.2, 27.0, 27.3, 27.2, 27.4, 27.2, 27.3, 27.1, 27.4, 27.2, 26.9],
  [25.9, 25.8, 26.1, 25.7, 26.1, 26.3, 26.0, 26.4, 26.1, 26.2, 26.4, 26.1, 26.3, 26.5, 26.2, 26.7, 26.5, 26.6, 26.4, 26.5,
   26.6, 26.8, 26.6, 26.7, 26.9, 26.6, 26.8, 26.7, 27.0, 26.8, 26.6, 26.9, 27.1, 27.0, 26.9, 27.1, 27.0, 26.8, 27.1, 27.0,
   27.1, 27.0, 27.2, 27.0, 27.2, 27.1, 27.4, 27.1, 27.2, 27.3, 27.1, 27.3, 27.2, 27.4, 27.0]
];
const miamiAriseRuns = [
  [25.4, 26.6, 26.1, 26.9, 26.3, 27.2, 26.2, 26.7, 26.0, 26.6, 26.4, 26.8, 26.2, 26.7, 26.9, 26.3, 26.1, 26.7, 26.9, 26.5,
   26.0, 26.8, 26.3, 26.7, 26.9, 26.4, 26.8, 26.3, 26.7, 26.9, 26.5, 26.2, 26.8, 25.8, 26.6],
  [26.6, 25.9, 26.7, 26.1, 26.5, 26.3, 26.8, 26.2, 26.6, 26.3, 26.2, 26.6, 26.4, 26.1, 26.6, 26.8, 26.4, 26.0, 26.7, 26.9,
   26.6, 26.2, 26.5, 26.4, 26.1, 26.6, 26.5, 26.8, 26.4, 26.6, 26.8, 26.4, 26.3, 26.6, 26.3],
  [26.3, 26.4, 26.5, 26.3, 26.6, 26.4, 26.3, 26.5, 26.4, 26.2, 26.5, 26.3, 26.6, 26.5, 26.4, 26.6, 26.5, 26.7, 26.5, 26.6,
   26.4, 26.5, 26.6, 26.3, 26.6, 26.5, 26.4, 26.6, 26.5, 26.4, 26.6, 26.5, 26.4, 26.6, 26.8],
  [26.2, 26.5, 26.4, 26.6, 26.2, 26.4, 26.6, 26.3, 26.5, 26.4, 26.6, 26.4, 26.3, 26.6, 26.5, 26.4, 26.6, 26.3, 26.7, 26.6,
   26.5, 26.4, 26.6, 26.5, 26.7, 26.4, 26.6, 26.5, 26.7, 26.6, 26.4, 26.7, 26.5, 26.4, 26.5]
];

const panels = [
  { city: 'Seattle', ssp: seattleSspMean, arise: seattleAriseMean, sspRuns: seattleSspRuns, ariseRuns: seattleAriseRuns, yMin: 8.61, yMax: 14.30, step: 1 },
  { city: 'Chicago', ssp: chicagoSspMean, arise: chicagoAriseMean, sspRuns: chicagoSspRuns, ariseRuns: chicagoAriseRuns, yMin: 11.41, yMax: 18.17, step: 2 },
  { city: 'New York', ssp: newYorkSspMean, arise: newYorkAriseMean, sspRuns: newYorkSspRuns, ariseRuns: newYorkAriseRuns, yMin: 11.45, yMax: 17.50, step: 2 },
  { city: 'Philadelphia', ssp: phillySspMean, arise: phillyAriseMean, sspRuns: phillySspRuns, ariseRuns: phillyAriseRuns, yMin: 12.38, yMax: 18.51, step: 2 },
  { city: 'Los Angeles', ssp: laSspMean, arise: laAriseMean, sspRuns: laSspRuns, ariseRuns: laAriseRuns, yMin: 17.97, yMax: 22.94, step: 1 },
  { city: 'Phoenix', ssp: phoenixSspMean, arise: phoenixAriseMean, sspRuns: phoenixSspRuns, ariseRuns: phoenixAriseRuns, yMin: 21.04, yMax: 26.44, step: 1 },
  { city: 'Houston', ssp: houstonSspMean, arise: houstonAriseMean, sspRuns: houstonSspRuns, ariseRuns: houstonAriseRuns, yMin: 21.80, yMax: 26.59, step: 1 },
  { city: 'Miami', ssp: miamiSspMean, arise: miamiAriseMean, sspRuns: miamiSspRuns, ariseRuns: miamiAriseRuns, yMin: 25.15, yMax: 28.12, step: 1 }
];

const SSP_COLOR = '#CDAD00';
const ARISE_COLOR = '#5F9EA0';
const SSP_THIN = 'rgba(205,173,0,0.55)';
const ARISE_THIN = 'rgba(95,158,160,0.5)';

// panel geometry (page px)
const colLeft = [62, 321, 580, 838];
const rowTop = [67, 334];
const plotW = 224, plotH = 206;
const padL = 50, padT = 8, padR = 20, padB = 30;

const tickFont = { family: '"Liberation Sans", Arial, sans-serif', size: 14.8 };

const markerLines = {
  id: 'markerLines',
  afterDatasetsDraw(chart) {
    const { ctx, chartArea, scales } = chart;
    ctx.save();
    ctx.strokeStyle = '#000';
    ctx.lineWidth = 1.5;
    markerYears.forEach(yr => {
      const x = scales.x.getPixelForValue(yr);
      ctx.beginPath();
      ctx.moveTo(x, chartArea.top);
      ctx.lineTo(x, chartArea.bottom);
      ctx.stroke();
    });
    ctx.restore();
  }
};

function toPoints(xs, ys) {
  return ys.map((y, i) => ({ x: xs[i], y: y }));
}

function buildDatasets(p) {
  const sets = [];
  sets.push({ label: scenarios[1], data: toPoints(ariseYears, p.arise), borderColor: ARISE_COLOR, borderWidth: 4.5, borderJoinStyle: 'round', order: 0 });
  sets.push({ label: scenarios[0], data: toPoints(years, p.ssp), borderColor: SSP_COLOR, borderWidth: 4.5, borderJoinStyle: 'round', order: 1 });
  p.ariseRuns.forEach(r => sets.push({ data: toPoints(ariseYears, r), borderColor: ARISE_THIN, borderWidth: 1.8, order: 2 }));
  p.sspRuns.forEach(r => sets.push({ data: toPoints(years, r), borderColor: SSP_THIN, borderWidth: 1.8, order: 3 }));
  return sets;
}

panels.forEach((p, i) => {
  const col = i % 4, row = Math.floor(i / 4);
  const left = colLeft[col], top = rowTop[row];

  const strip = document.createElement('div');
  strip.className = 'strip';
  strip.style.left = left + 'px';
  strip.style.top = (top - 30) + 'px';
  strip.style.width = (plotW + 1) + 'px';
  strip.style.height = '30px';
  strip.textContent = p.city;
  document.body.appendChild(strip);

  const canvas = document.createElement('canvas');
  canvas.width = padL + plotW + padR;
  canvas.height = padT + plotH + padB;
  canvas.style.left = (left - padL) + 'px';
  canvas.style.top = (top - padT) + 'px';
  document.body.appendChild(canvas);

  new Chart(canvas, {
    type: 'line',
    data: { datasets: buildDatasets(p) },
    options: {
      responsive: false,
      animation: false,
      events: [],
      layout: { padding: { top: padT, right: padR, bottom: 0, left: 0 } },
      elements: { point: { radius: 0 }, line: { tension: 0, fill: false } },
      plugins: { legend: { display: false }, tooltip: { enabled: false } },
      scales: {
        x: {
          type: 'linear', min: 2012.1, max: 2071.9,
          afterFit: s => { s.height = padB; },
          border: { display: true, color: '#000', width: 1.5 },
          grid: { drawOnChartArea: false, drawTicks: true, tickLength: 4, tickColor: '#333', tickWidth: 1.2 },
          afterBuildTicks: s => { s.ticks = xTicks.map(v => ({ value: v })); },
          ticks: { autoSkip: false, maxRotation: 0, padding: 1, color: '#4d4d4d', font: tickFont, callback: v => String(v) }
        },
        y: {
          type: 'linear', min: p.yMin, max: p.yMax,
          afterFit: s => { s.width = padL; },
          border: { display: true, color: '#000', width: 1.5 },
          grid: { drawOnChartArea: false, drawTicks: true, tickLength: 4, tickColor: '#333', tickWidth: 1.2 },
          ticks: { stepSize: p.step, includeBounds: false, padding: 4, color: '#4d4d4d', font: tickFont,
                   callback: v => Number.isInteger(v) ? String(v) : '' }
        }
      }
    },
    plugins: [markerLines]
  });
});
</script>
</body>
</html>
